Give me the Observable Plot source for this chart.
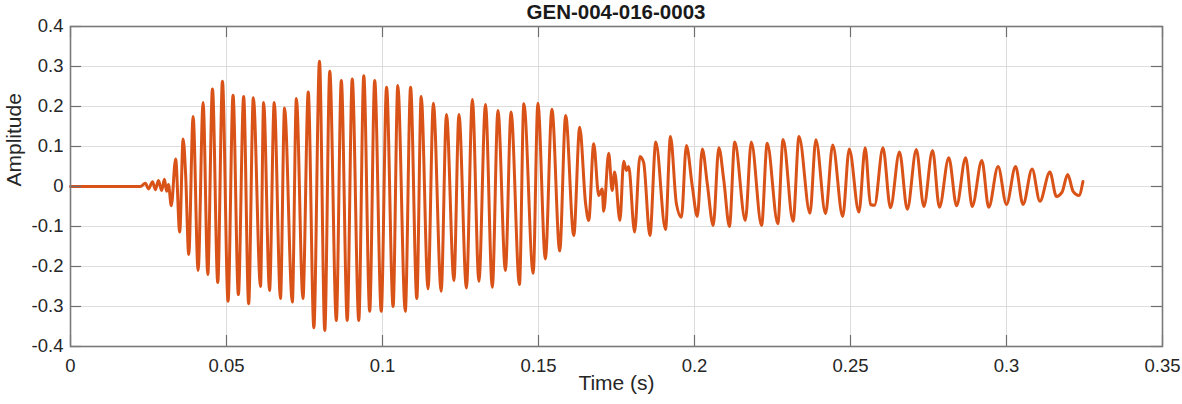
<!DOCTYPE html>
<html>
<head>
<meta charset="utf-8">
<script src="https://cdn.jsdelivr.net/npm/d3@7"></script>
<script src="https://cdn.jsdelivr.net/npm/@observablehq/plot@0.6"></script>
<style>
  html, body { margin: 0; padding: 0; background: #fff; }
  #wrap { width: 1182px; height: 404px; position: relative; font-family: "Liberation Sans", Arial, sans-serif; }
  #title { height: 24px; width: 1182px; position: relative; }
  #title span { position: absolute; left: 616px; top: 1px; transform: translateX(-50%); font-weight: bold; font-size: 20.5px; color: #1a1a1a; white-space: nowrap; line-height: 22px; }
  svg { display: block; }
</style>
</head>
<body>
<div id="wrap">
  <div id="title"><span>GEN-004-016-0003</span></div>
  <div id="chart"></div>
</div>
<script>
const titleText = "GEN-004-016-0003";
const xLabel = "Time (s)";
const yLabel = "Amplitude";
const xTicks = [0, 0.05, 0.1, 0.15, 0.2, 0.25, 0.3, 0.35];
const yTicks = [-0.4, -0.3, -0.2, -0.1, 0, 0.1, 0.2, 0.3, 0.4];

const timeS = [
  0, 0.0224, 0.0240, 0.0250, 0.0263, 0.0272, 0.0282, 0.0292, 0.0301, 0.0308,
  0.0314, 0.0323, 0.0337, 0.0350, 0.0361, 0.0369, 0.0379, 0.0393, 0.0409, 0.0425,
  0.0440, 0.0455, 0.0472, 0.0487, 0.0505, 0.0521, 0.0538, 0.0555, 0.0571, 0.0586,
  0.0609, 0.0619, 0.0638, 0.0653, 0.0673, 0.0686, 0.0711, 0.0724, 0.0745, 0.0762,
  0.0780, 0.0798, 0.0815, 0.0831, 0.0852, 0.0868, 0.0887, 0.0903, 0.0924, 0.0940,
  0.0959, 0.0975, 0.0996, 0.1013, 0.1034, 0.1049, 0.1073, 0.1090, 0.1110, 0.1124,
  0.1146, 0.1163, 0.1188, 0.1205, 0.1229, 0.1245, 0.1269, 0.1288, 0.1309, 0.1330,
  0.1352, 0.1370, 0.1394, 0.1412, 0.1439, 0.1453, 0.1483, 0.1498, 0.1522, 0.1543,
  0.1568, 0.1587, 0.1613, 0.1632, 0.1651, 0.1661, 0.1677, 0.1693, 0.1704, 0.1709,
  0.1725, 0.1736, 0.1744, 0.1761, 0.1773, 0.1782, 0.1789, 0.1808, 0.1825, 0.1837,
  0.1857, 0.1876, 0.1907, 0.1923, 0.1942, 0.1958, 0.1974, 0.1993, 0.2009, 0.2025,
  0.2041, 0.2060, 0.2078, 0.2094, 0.2112, 0.2129, 0.2163, 0.2182, 0.2215, 0.2233,
  0.2267, 0.2284, 0.2316, 0.2335, 0.2370, 0.2389, 0.2420, 0.2443, 0.2475, 0.2496,
  0.2527, 0.2547, 0.2564, 0.2577, 0.2604, 0.2628, 0.2657, 0.2682, 0.2711, 0.2735,
  0.2763, 0.2785, 0.2815, 0.2840, 0.2869, 0.2890, 0.2921, 0.2943, 0.2973, 0.3000,
  0.3029, 0.3053, 0.3082, 0.3107, 0.3139, 0.3160, 0.3178, 0.3196, 0.3214, 0.3232,
  0.3245
];

const amplitude = [
  0, 0, 0.008, -0.006, 0.012, -0.008, 0.015, -0.01, 0.018, -0.012,
  0.005, -0.048, 0.069, -0.114, 0.119, 0.03, -0.17, 0.175, -0.21, 0.21,
  -0.22, 0.244, -0.24, 0.263, -0.287, 0.228, -0.27, 0.225, -0.293, 0.222,
  -0.25, 0.21, -0.26, 0.21, -0.28, 0.196, -0.289, 0.22, -0.28, 0.236,
  -0.353, 0.313, -0.36, 0.288, -0.335, 0.265, -0.335, 0.269, -0.335, 0.277,
  -0.312, 0.265, -0.312, 0.248, -0.3, 0.2525, -0.312, 0.248, -0.28, 0.225,
  -0.256, 0.208, -0.262, 0.18, -0.235, 0.18, -0.254, 0.2175, -0.237, 0.205,
  -0.252, 0.19, -0.21, 0.186, -0.245, 0.207, -0.217, 0.208, -0.181, 0.193,
  -0.161, 0.1775, -0.1225, 0.148, -0.043, -0.085, 0.107, -0.0225, -0.006, -0.062,
  0.083, -0.01, 0.036, -0.085, 0.063, 0.04, 0.05, -0.114, 0.075, 0.06,
  -0.1225, 0.111, -0.1075, 0.125, -0.043, -0.077, 0.1025, 0, -0.075, 0.094,
  0.007, -0.0975, 0.097, 0.015, -0.1, 0.111, -0.085, 0.111, -0.0975, 0.108,
  -0.093, 0.1175, -0.087, 0.125, -0.067, 0.117, -0.068, 0.104, -0.075, 0.094,
  -0.064, 0.097, -0.045, -0.047, 0.097, -0.053, 0.086, -0.057, 0.0925, -0.05,
  0.09, -0.052, 0.072, -0.048, 0.072, -0.05, 0.065, -0.052, 0.05, -0.045,
  0.05, -0.045, 0.044, -0.037, 0.036, -0.025, -0.014, 0.03, -0.013, -0.0225,
  0.0125
];

const rows = timeS.map((t, i) => ({t, a: amplitude[i]}));
document.querySelector("#title span").textContent = titleText;

const W = 1182, H = 380;
const mL = 70, mR = 20, mT = 2, mB = 58;
const plotW = W - mL - mR, plotH = H - mT - mB;
const tickLen = 11;
const fontFam = '"Liberation Sans", Arial, sans-serif';

const chart = Plot.plot({
  width: W,
  height: H,
  marginLeft: mL,
  marginRight: mR,
  marginTop: mT,
  marginBottom: mB,
  style: {fontFamily: fontFam, background: "#fff", overflow: "visible"},
  x: {domain: [0, 0.35], label: null},
  y: {domain: [-0.4, 0.4], label: null},
  marks: [
    Plot.gridX(xTicks, {stroke: "#dcdcdc", strokeOpacity: 1, strokeWidth: 1}),
    Plot.gridY(yTicks, {stroke: "#dcdcdc", strokeOpacity: 1, strokeWidth: 1}),
    Plot.line(rows, {x: "t", y: "a", stroke: "#D95319", strokeWidth: 3, curve: "monotone-x"}),
    // inward ticks (bottom, top, left, right)
    Plot.tickX(xTicks, {x: d => d, insetTop: plotH - tickLen, stroke: "#6e6e6e", strokeWidth: 1.2}),
    Plot.tickX(xTicks, {x: d => d, insetBottom: plotH - tickLen, stroke: "#6e6e6e", strokeWidth: 1.2}),
    Plot.tickY(yTicks, {y: d => d, insetRight: plotW - tickLen, stroke: "#6e6e6e", strokeWidth: 1.2}),
    Plot.tickY(yTicks, {y: d => d, insetLeft: plotW - tickLen, stroke: "#6e6e6e", strokeWidth: 1.2}),
    Plot.frame({stroke: "#7a7a7a", strokeWidth: 1.6}),
    Plot.axisX(xTicks, {tickSize: 0, tickPadding: 12, fontSize: 18.5, fill: "#262626", label: null, tickFormat: d => String(d)}),
    Plot.axisY(yTicks, {tickSize: 0, tickPadding: 7, fontSize: 18.5, fill: "#262626", label: null, tickFormat: d => String(d)}),
    Plot.text([xLabel], {frameAnchor: "bottom", dy: 43, text: d => d, fontSize: 21, fill: "#262626"}),
    Plot.text([yLabel], {frameAnchor: "left", dx: -56, rotate: -90, text: d => d, fontSize: 21, fill: "#262626"})
  ]
});
document.getElementById("chart").appendChild(chart);
</script>
</body>
</html>
